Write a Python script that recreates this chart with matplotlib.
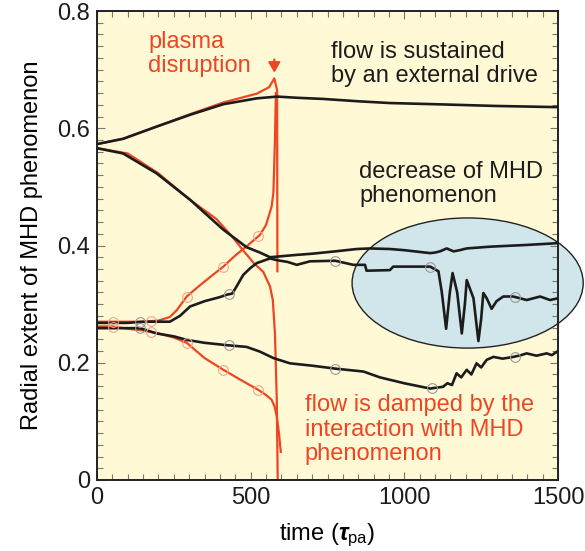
import numpy as np
import matplotlib
matplotlib.use('Agg')
import matplotlib.pyplot as plt
from matplotlib.patches import Ellipse
from matplotlib.ticker import MultipleLocator

plt.rcParams['font.family'] = ['Liberation Sans', 'DejaVu Sans']
plt.rcParams['mathtext.fontset'] = 'custom'
plt.rcParams['mathtext.rm'] = 'Liberation Sans'
plt.rcParams['mathtext.it'] = 'Liberation Sans:italic:bold'

# black curves (flow sustained by external drive)
tA = [0, 85, 195, 303, 411, 520, 586, 650, 736, 850, 953, 1100, 1300, 1500]
yA = [0.573, 0.582, 0.603, 0.623, 0.641, 0.651, 0.654, 0.652, 0.650, 0.646, 0.643, 0.641, 0.638, 0.636]

tB = [0, 85, 194, 303, 411, 487, 530, 563, 585, 650, 700, 775, 845, 888, 953, 1000, 1084,
      1100, 1116, 1138, 1160, 1180, 1203, 1279, 1400, 1500]
yB = [0.566, 0.557, 0.523, 0.478, 0.427, 0.397, 0.388, 0.380, 0.381, 0.384, 0.386, 0.390, 0.394,
      0.395, 0.394, 0.392, 0.387, 0.388, 0.390, 0.395, 0.390, 0.392, 0.395, 0.398, 0.401, 0.404]

tC = [0, 100, 150, 200, 237, 270, 303, 350, 400, 422, 440, 454, 476, 500, 520, 563, 585, 620,
      650, 693, 775, 834, 872, 877, 953, 964, 1084, 1111, 1122, 1136, 1148, 1157, 1172, 1187,
      1197, 1203, 1225, 1241, 1250, 1257, 1268, 1284, 1300, 1322, 1354, 1398, 1442, 1474, 1500]
yC = [0.268, 0.268, 0.270, 0.270, 0.270, 0.280, 0.296, 0.305, 0.312, 0.316, 0.318, 0.330, 0.350,
      0.362, 0.370, 0.378, 0.375, 0.372, 0.367, 0.373, 0.374, 0.367, 0.367, 0.357, 0.358, 0.364,
      0.364, 0.356, 0.320, 0.258, 0.320, 0.353, 0.320, 0.250, 0.300, 0.341, 0.310, 0.237, 0.275,
      0.319, 0.310, 0.292, 0.305, 0.313, 0.313, 0.307, 0.313, 0.307, 0.310]

tD = [0, 100, 140, 194, 250, 292, 350, 422, 487, 530, 574, 628, 700, 775, 867, 921, 1000, 1084,
      1126, 1140, 1155, 1170, 1185, 1203, 1218, 1235, 1250, 1268, 1290, 1320, 1355, 1380, 1398,
      1430, 1463, 1480, 1500]
yD = [0.259, 0.259, 0.259, 0.250, 0.245, 0.239, 0.234, 0.230, 0.227, 0.219, 0.208, 0.199, 0.195,
      0.190, 0.185, 0.175, 0.165, 0.156, 0.159, 0.165, 0.162, 0.182, 0.175, 0.188, 0.180, 0.199,
      0.192, 0.205, 0.210, 0.207, 0.210, 0.213, 0.216, 0.212, 0.216, 0.213, 0.220]

# red curves (flow damped, ends in disruption)
tR1 = [0, 85, 195, 303, 411, 520, 560, 577, 586, 587]
yR1 = [0.573, 0.582, 0.603, 0.624, 0.644, 0.659, 0.670, 0.685, 0.665, 0.356]

tR2 = [0, 100, 200, 300, 389, 440, 475, 510, 541, 563, 572, 579, 585, 588]
yR2 = [0.566, 0.557, 0.523, 0.479, 0.445, 0.415, 0.392, 0.370, 0.355, 0.330, 0.307, 0.250, 0.137, 0.0]

tR3 = [0, 100, 150, 200, 237, 260, 292, 330, 370, 411, 450, 490, 530, 550, 568, 574, 579, 582]
yR3 = [0.270, 0.270, 0.270, 0.272, 0.278, 0.290, 0.313, 0.330, 0.347, 0.364, 0.383, 0.400, 0.418,
       0.435, 0.466, 0.490, 0.580, 0.660]

tR4 = [0, 50, 100, 150, 200, 250, 292, 350, 411, 470, 524, 550, 568, 578, 585, 592, 598]
yR4 = [0.262, 0.262, 0.258, 0.255, 0.250, 0.243, 0.234, 0.208, 0.188, 0.170, 0.154, 0.145,
       0.137, 0.125, 0.108, 0.080, 0.048]

# open circle markers
red_mark_t = [53, 175, 292, 411, 525]
grey_mark_tC = [140, 430, 775, 1084, 1360]
grey_mark_tD = [140, 430, 775, 1090, 1360]

red = '#ee4623'
black = '#1c1c1c'

fig = plt.figure(figsize=(5.85, 5.51), dpi=100)
ax = fig.add_axes([97 / 585, 71 / 551, 461 / 585, 469 / 551])
ax.set_facecolor('#fff9d6')

ell = Ellipse((1206, 0.336), 752, 0.222, facecolor='#d0e6ea', edgecolor='#222222',
              lw=1.0, clip_on=False, zorder=1)
ax.add_patch(ell)

for t, y in [(tR1, yR1), (tR2, yR2), (tR3, yR3), (tR4, yR4)]:
    ax.plot(t, y, color=red, lw=1.6, zorder=2)
for t, y in [(tA, yA), (tB, yB), (tC, yC), (tD, yD)]:
    ax.plot(t, y, color=black, lw=1.9, zorder=3)

for t, y in [(tR3, yR3), (tR4, yR4)]:
    ax.plot(red_mark_t, np.interp(red_mark_t, t, y), 'o', ms=7, mfc='none',
            mec='#f5a58a', mew=0.8, zorder=4)
ax.plot(grey_mark_tC, np.interp(grey_mark_tC, tC, yC), 'o', ms=7, mfc='none',
        mec='#999999', mew=0.8, zorder=4)
ax.plot(grey_mark_tD, np.interp(grey_mark_tD, tD, yD), 'o', ms=7, mfc='none',
        mec='#999999', mew=0.8, zorder=4)

ax.annotate('', xy=(577, 0.690), xytext=(577, 0.722),
            arrowprops=dict(arrowstyle='-|>,head_width=0.35,head_length=0.6',
                            color=red, lw=1.6))

fs = 17
ls = 1.15
ax.text(0.111, 0.958, 'plasma\ndisruption', transform=ax.transAxes, color=red,
        fontsize=fs, va='top', linespacing=ls)
ax.text(0.508, 0.937, 'flow is sustained\nby an external drive', transform=ax.transAxes,
        color=black, fontsize=fs, va='top', linespacing=ls)
ax.text(0.569, 0.681, 'decrease of MHD\nphenomenon', transform=ax.transAxes,
        color=black, fontsize=fs, va='top', linespacing=ls)
ax.text(0.451, 0.183, 'flow is damped by the\ninteraction with MHD\nphenomenon',
        transform=ax.transAxes, color=red, fontsize=fs, va='top', linespacing=ls)

ax.set_xlim(0, 1500)
ax.set_ylim(0, 0.8)
ax.set_xticks([0, 500, 1000, 1500])
ax.set_yticks([0, 0.2, 0.4, 0.6, 0.8])
ax.set_yticklabels(['0', '0.2', '0.4', '0.6', '0.8'])
ax.xaxis.set_minor_locator(MultipleLocator(50))
ax.yaxis.set_minor_locator(MultipleLocator(0.02))
ax.tick_params(which='both', direction='in', top=True, right=True, colors='#777777',
               labelcolor=black, labelsize=fs, width=0.8)
ax.tick_params(which='major', length=6, pad=5)
ax.tick_params(which='minor', length=4)
for s in ax.spines.values():
    s.set_color('#222222')
    s.set_linewidth(1.4)

ax.set_xlabel(r'time ($\tau_{\mathrm{pa}}$)', fontsize=fs, labelpad=9)
ax.set_ylabel('Radial extent of MHD phenomenon', fontsize=fs, labelpad=10)

fig.savefig('out.png', dpi=100)
